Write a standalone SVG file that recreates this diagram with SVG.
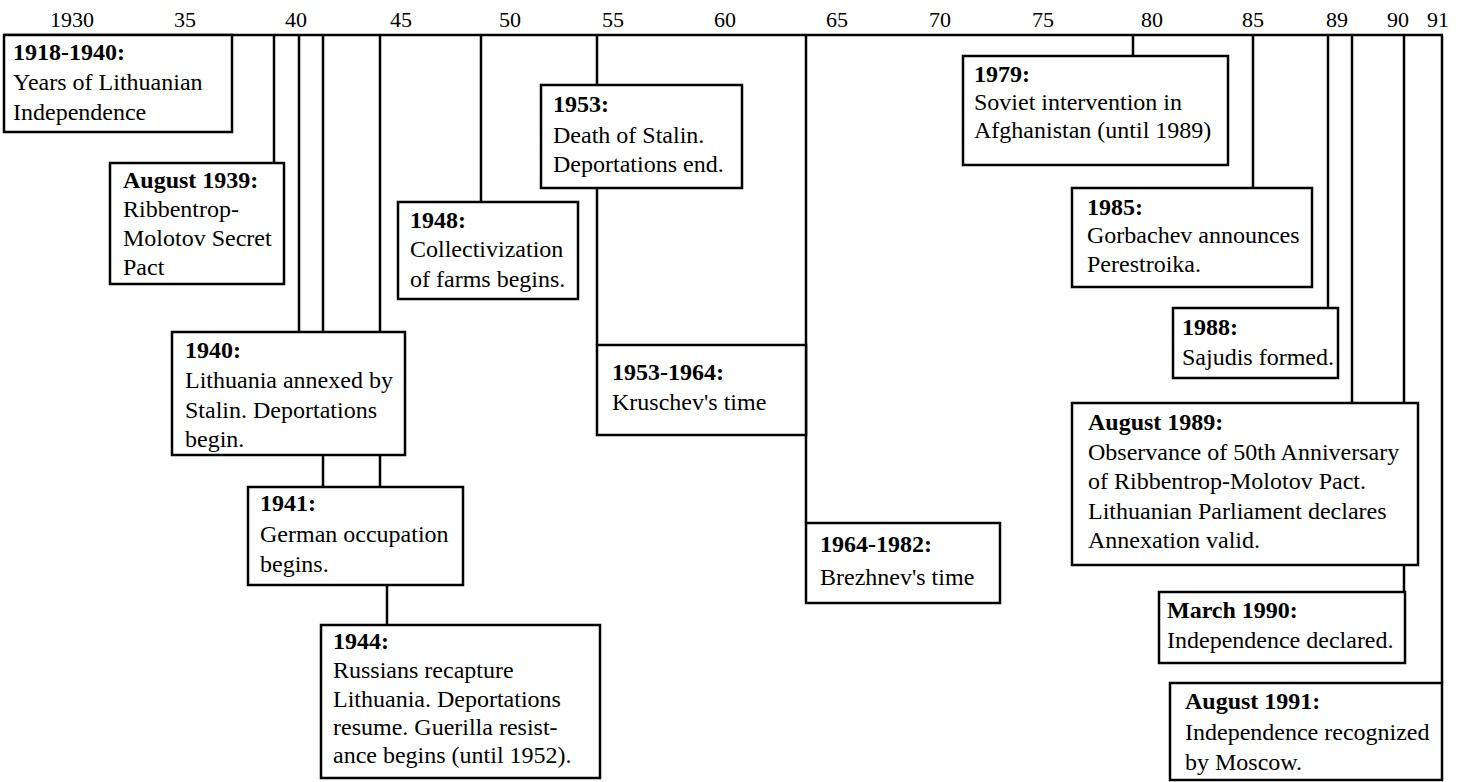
<svg xmlns="http://www.w3.org/2000/svg" width="1472" height="782" viewBox="0 0 1472 782">
<style>
.bx{fill:#fff;stroke:#000;stroke-width:2.5}
.ln{stroke:#000;stroke-width:2.5;fill:none}
text{font-family:"Liberation Serif",serif;font-size:24px;fill:#000}
.b{font-weight:bold}
.ax{font-size:22px;text-anchor:middle}
</style>
<rect width="1472" height="782" fill="#fff"/>
<g id="axis">
<line class="ln" x1="4" y1="35" x2="1443" y2="35"/>
<text class="ax" x="72" y="27">1930</text>
<text class="ax" x="185" y="27">35</text>
<text class="ax" x="296" y="27">40</text>
<text class="ax" x="401" y="27">45</text>
<text class="ax" x="510" y="27">50</text>
<text class="ax" x="613" y="27">55</text>
<text class="ax" x="725" y="27">60</text>
<text class="ax" x="837" y="27">65</text>
<text class="ax" x="940" y="27">70</text>
<text class="ax" x="1043" y="27">75</text>
<text class="ax" x="1152" y="27">80</text>
<text class="ax" x="1253" y="27">85</text>
<text class="ax" x="1337" y="27">89</text>
<text class="ax" x="1398" y="27">90</text>
<text class="ax" x="1438" y="27">91</text>
</g>
<g id="connectors">
<line class="ln" x1="274" y1="35" x2="274" y2="163"/>
<line class="ln" x1="299" y1="35" x2="299" y2="332"/>
<line class="ln" x1="323" y1="35" x2="323" y2="487"/>
<line class="ln" x1="380" y1="35" x2="380" y2="487"/>
<line class="ln" x1="387" y1="585" x2="387" y2="625"/>
<line class="ln" x1="481" y1="35" x2="481" y2="202"/>
<line class="ln" x1="597" y1="35" x2="597" y2="345"/>
<line class="ln" x1="806" y1="35" x2="806" y2="523"/>
<line class="ln" x1="1133" y1="35" x2="1133" y2="56"/>
<line class="ln" x1="1253" y1="35" x2="1253" y2="188"/>
<line class="ln" x1="1328" y1="35" x2="1328" y2="308"/>
<line class="ln" x1="1352" y1="35" x2="1352" y2="403"/>
<line class="ln" x1="1404" y1="35" x2="1404" y2="592"/>
<line class="ln" x1="1442" y1="35" x2="1442" y2="683"/>
</g>
<g id="n1918">
<rect class="bx" x="4" y="35" width="228" height="97"/>
<text x="13" y="60" class="b">1918-1940:</text>
<text x="13" y="90">Years of Lithuanian</text>
<text x="13" y="120">Independence</text>
</g>
<g id="n1939">
<rect class="bx" x="110" y="163" width="174" height="121"/>
<text x="123" y="188" class="b">August 1939:</text>
<text x="123" y="217">Ribbentrop-</text>
<text x="123" y="246">Molotov Secret</text>
<text x="123" y="275">Pact</text>
</g>
<g id="n1940">
<rect class="bx" x="172" y="332" width="233" height="123"/>
<text x="185" y="358" class="b">1940:</text>
<text x="185" y="388">Lithuania annexed by</text>
<text x="185" y="418">Stalin. Deportations</text>
<text x="185" y="447">begin.</text>
</g>
<g id="n1941">
<rect class="bx" x="248" y="487" width="215" height="98"/>
<text x="260" y="511" class="b">1941:</text>
<text x="260" y="542">German occupation</text>
<text x="260" y="572">begins.</text>
</g>
<g id="n1944">
<rect class="bx" x="321" y="625" width="279" height="153"/>
<text x="333" y="649" class="b">1944:</text>
<text x="333" y="678">Russians recapture</text>
<text x="333" y="707">Lithuania. Deportations</text>
<text x="333" y="735">resume. Guerilla resist-</text>
<text x="333" y="763">ance begins (until 1952).</text>
</g>
<g id="n1948">
<rect class="bx" x="398" y="202" width="180" height="97"/>
<text x="410" y="228" class="b">1948:</text>
<text x="410" y="257">Collectivization</text>
<text x="410" y="287">of farms begins.</text>
</g>
<g id="n1953">
<rect class="bx" x="541" y="85" width="201" height="103"/>
<text x="553" y="112" class="b">1953:</text>
<text x="553" y="143">Death of Stalin.</text>
<text x="553" y="172">Deportations end.</text>
</g>
<g id="n1953_1964">
<rect class="bx" x="597" y="345" width="209" height="90"/>
<text x="612" y="380" class="b">1953-1964:</text>
<text x="612" y="410">Kruschev's time</text>
</g>
<g id="n1964_1982">
<rect class="bx" x="806" y="523" width="194" height="80"/>
<text x="820" y="552" class="b">1964-1982:</text>
<text x="820" y="585">Brezhnev's time</text>
</g>
<g id="n1979">
<rect class="bx" x="963" y="56" width="265" height="109"/>
<text x="974" y="82" class="b">1979:</text>
<text x="974" y="110">Soviet intervention in</text>
<text x="974" y="138">Afghanistan (until 1989)</text>
</g>
<g id="n1985">
<rect class="bx" x="1072" y="188" width="240" height="99"/>
<text x="1087" y="215" class="b">1985:</text>
<text x="1087" y="243">Gorbachev announces</text>
<text x="1087" y="272">Perestroika.</text>
</g>
<g id="n1988">
<rect class="bx" x="1173" y="308" width="165" height="70"/>
<text x="1182" y="335" class="b">1988:</text>
<text x="1182" y="365">Sajudis formed.</text>
</g>
<g id="n1989">
<rect class="bx" x="1072" y="403" width="346" height="162"/>
<text x="1088" y="430" class="b">August 1989:</text>
<text x="1088" y="460">Observance of 50th Anniversary</text>
<text x="1088" y="489">of Ribbentrop-Molotov Pact.</text>
<text x="1088" y="519">Lithuanian Parliament declares</text>
<text x="1088" y="548">Annexation valid.</text>
</g>
<g id="n1990">
<rect class="bx" x="1159" y="592" width="246" height="71"/>
<text x="1167" y="618" class="b">March 1990:</text>
<text x="1167" y="648">Independence declared.</text>
</g>
<g id="n1991">
<rect class="bx" x="1170" y="683" width="272" height="97"/>
<text x="1185" y="709" class="b">August 1991:</text>
<text x="1185" y="740">Independence recognized</text>
<text x="1185" y="770">by Moscow.</text>
</g>
</svg>
